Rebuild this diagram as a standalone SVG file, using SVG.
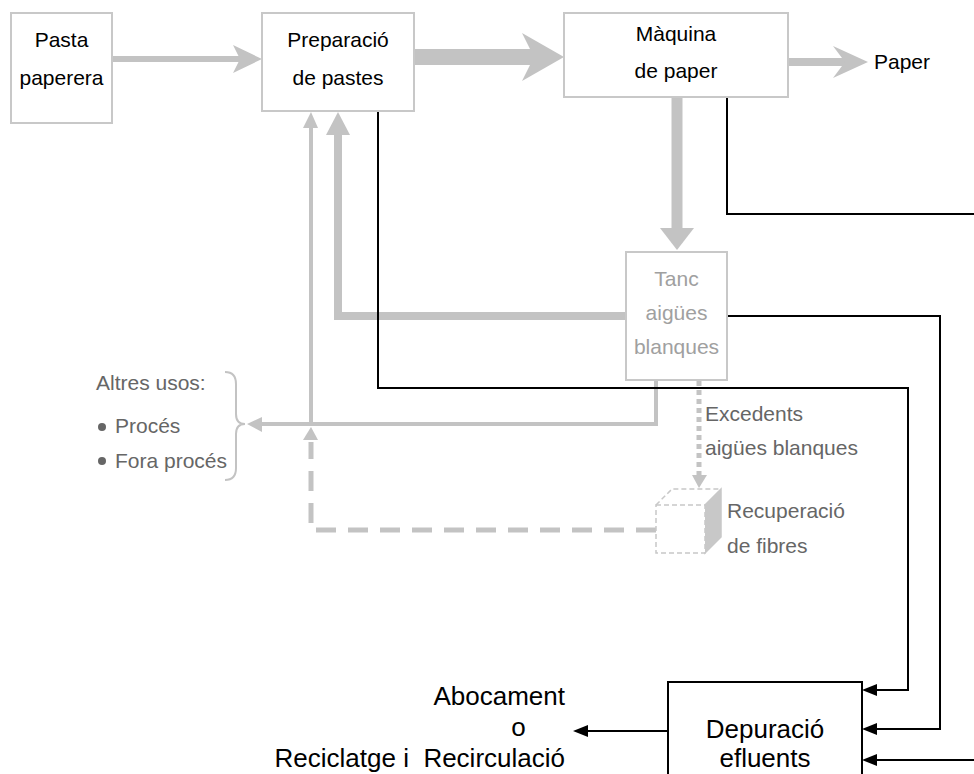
<svg xmlns="http://www.w3.org/2000/svg" width="974" height="774" viewBox="0 0 974 774">
<style>
.box{fill:#fff;stroke:#c8c8c8;stroke-width:2}
.bbox{fill:#fff;stroke:#000;stroke-width:2}
.t{font-family:"Liberation Sans",Arial,sans-serif;font-size:21px;fill:#000}
.tl{font-family:"Liberation Sans",Arial,sans-serif;font-size:21px;fill:#a0a0a0}
.tg{font-family:"Liberation Sans",Arial,sans-serif;font-size:21px;fill:#666}
.tb{font-family:"Liberation Sans",Arial,sans-serif;font-size:26px;fill:#000}
.g{fill:none;stroke:#c3c3c3}
.gh{fill:#c3c3c3;stroke:none}
.k{fill:none;stroke:#000;stroke-width:2}
.kh{fill:#000;stroke:none}
</style>
<rect width="974" height="774" fill="#fff"/>
<g id="connectors">
  <line class="g" x1="112" y1="59" x2="240" y2="59" stroke-width="6"/>
  <polygon class="gh" points="233,45 262,59 233,73 240,59"/>
  <line class="g" x1="414" y1="57" x2="536" y2="57" stroke-width="16"/>
  <polygon class="gh" points="522,33 564,57 522,81 534,57"/>
  <line class="g" x1="788" y1="62" x2="845" y2="62" stroke-width="8"/>
  <polygon class="gh" points="833,46 868,62 833,78 845,62"/>
  <line class="g" x1="677" y1="97" x2="677" y2="230" stroke-width="11"/>
  <polygon class="gh" points="660,228 694,228 677,250"/>
  <polyline class="g" points="626,316 338,316 338,130" stroke-width="8"/>
  <polygon class="gh" points="326,135 338,112 350,135"/>
  <polyline class="g" points="656,380 656,424 258,424" stroke-width="4"/>
  <polygon class="gh" points="262,417 247,424 262,432"/>
  <line class="g" x1="311" y1="424" x2="311" y2="125" stroke-width="4"/>
  <polygon class="gh" points="303,128 311,112 318,128"/>
  <polyline class="g" points="656,530 311,530 311,442" stroke-width="5" stroke-dasharray="20 12"/>
  <polygon class="gh" points="303,440 311,427 318,440"/>
  <line class="g" x1="699" y1="381" x2="699" y2="476" stroke-width="5" stroke-dasharray="5 4"/>
  <polygon class="gh" points="692,475 707,475 699,488"/>
  <polyline class="k" points="378,111 378,388 908,388 908,690 874,690"/>
  <polygon class="kh" points="862,690 877,684 877,696"/>
  <polyline class="k" points="727,316 940,316 940,729 874,729"/>
  <polygon class="kh" points="862,729 877,723 877,735"/>
  <polyline class="k" points="727,97 727,214 974,214"/>
  <line class="k" x1="974" y1="760" x2="874" y2="760"/>
  <polygon class="kh" points="862,760 877,754 877,766"/>
  <line class="k" x1="668" y1="731" x2="585" y2="731"/>
  <polygon class="kh" points="573,731 588,725 588,737"/>
</g>
<g id="pasta">
  <rect class="box" x="11" y="13" width="101" height="110"/>
  <text class="t" x="61.5" y="47" text-anchor="middle">Pasta</text>
  <text class="t" x="61.5" y="85" text-anchor="middle">paperera</text>
</g>
<g id="preparacio">
  <rect class="box" x="262" y="13" width="152" height="98"/>
  <text class="t" x="338" y="47" text-anchor="middle">Preparació</text>
  <text class="t" x="338" y="85" text-anchor="middle">de pastes</text>
</g>
<g id="maquina">
  <rect class="box" x="564" y="13" width="224" height="84"/>
  <text class="t" x="676" y="41" text-anchor="middle">Màquina</text>
  <text class="t" x="676" y="78" text-anchor="middle">de paper</text>
</g>
<g id="paper">
  <text class="t" x="874" y="69">Paper</text>
</g>
<g id="tanc">
  <rect class="box" x="626" y="252" width="101" height="128"/>
  <text class="tl" x="676.5" y="286" text-anchor="middle">Tanc</text>
  <text class="tl" x="676.5" y="320" text-anchor="middle">aigües</text>
  <text class="tl" x="676.5" y="354" text-anchor="middle">blanques</text>
</g>
<g id="excedents">
  <text class="tg" x="705" y="421">Excedents</text>
  <text class="tg" x="705" y="455">aigües blanques</text>
</g>
<g id="altres">
  <text class="tg" x="96" y="390">Altres usos:</text>
  <circle cx="102" cy="427" r="4" fill="#666"/>
  <text class="tg" x="115" y="433">Procés</text>
  <circle cx="102" cy="461" r="4" fill="#666"/>
  <text class="tg" x="115" y="468">Fora procés</text>
  <path d="M225,372 Q236,372 236,384 L236,414 Q236,424 245,424 Q236,424 236,434 L236,468 Q236,480 225,480" fill="none" stroke="#c3c3c3" stroke-width="2"/>
</g>
<g id="recuperacio">
  <polygon points="705,505 721,489 721,537 705,553" fill="#c8c8c8" stroke="#c8c8c8" stroke-width="1.5"/>
  <rect x="656" y="505" width="49" height="48" fill="#fff" stroke="#c8c8c8" stroke-width="1.5" stroke-dasharray="5 3"/>
  <polyline points="656,505 672,489 721,489" fill="none" stroke="#c8c8c8" stroke-width="1.5" stroke-dasharray="5 3"/>
  <text class="tg" x="727" y="518">Recuperació</text>
  <text class="tg" x="727" y="553">de fibres</text>
</g>
<g id="depuracio">
  <rect class="bbox" x="668" y="682" width="194" height="100"/>
  <text class="tb" x="765" y="738" text-anchor="middle">Depuració</text>
  <text class="tb" x="765" y="767" text-anchor="middle">efluents</text>
</g>
<g id="abocament">
  <text class="tb" x="565" y="705" text-anchor="end">Abocament</text>
  <text class="tb" x="518.5" y="736" text-anchor="middle">o</text>
  <text class="tb" x="565" y="767" text-anchor="end">Reciclatge i &#160;Recirculació</text>
</g>
</svg>
